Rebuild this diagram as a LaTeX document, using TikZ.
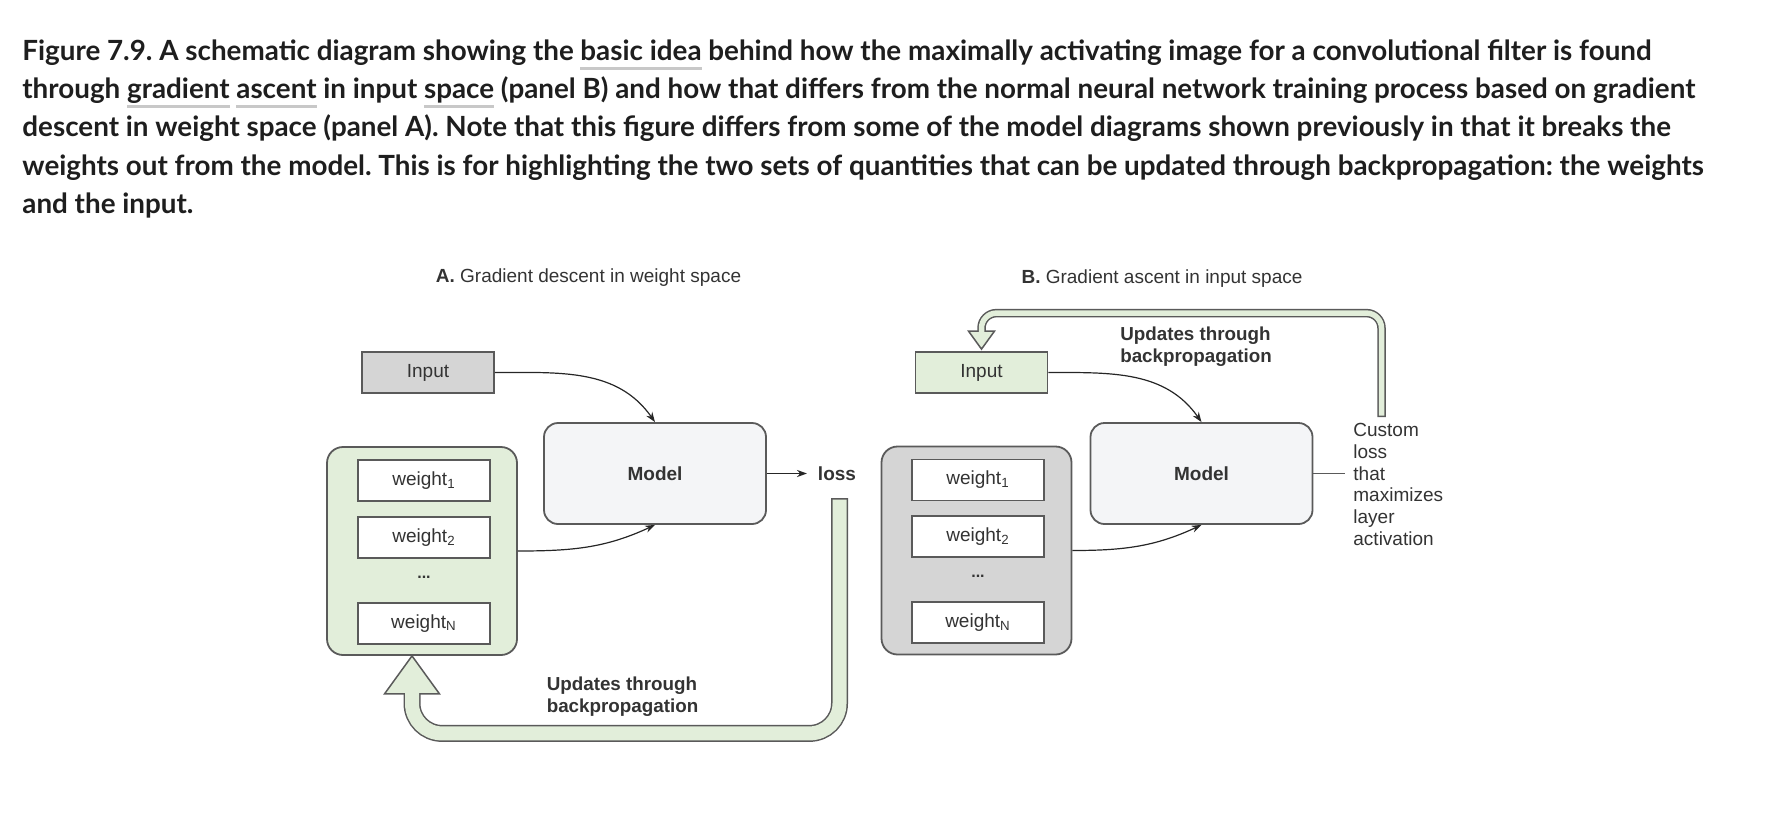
\documentclass[tikz,border=0pt]{standalone}
\usepackage{fontspec}
\setmainfont{Lato}
\newfontfamily\diagfont{Liberation Sans}
\usetikzlibrary{positioning,arrows.meta}
\frenchspacing

\definecolor{greenfill}{HTML}{E2EEDA}
\definecolor{grayfill}{HTML}{D5D5D5}
\definecolor{modelfill}{HTML}{F4F5F7}
\definecolor{edgegray}{HTML}{5A5A5A}
\definecolor{diagtext}{HTML}{333333}
\definecolor{captext}{HTML}{1E1E1E}
\definecolor{linkgray}{HTML}{C8C8C8}

% grey link underline under a word
\newcommand\ulink[1]{\setbox0=\hbox{#1}\rlap{\color{linkgray}\rule[-5pt]{\wd0}{1.5pt}}\box0\relax}

\begin{document}
\begin{tikzpicture}[%
    x=0.5pt,y=-0.5pt,>={Stealth[length=5pt,width=3.6pt]},
    font=\diagfont\fontsize{9.5}{10.85}\selectfont,text=diagtext,
    caption/.style={anchor=north west,align=left,inner sep=0pt,
      font=\fontsize{13.9}{19.15}\selectfont\bfseries,text=captext},
    inbox/.style={draw=edgegray,line width=0.9pt,minimum width=66pt,
      minimum height=20.5pt,inner sep=0pt},
    wbox/.style={inbox,fill=white},
    modelbox/.style={draw=edgegray,line width=0.9pt,rounded corners=7pt,
      fill=modelfill,minimum width=111pt,minimum height=50.5pt,
      font=\diagfont\bfseries\fontsize{9.5}{11}\selectfont},
    wgroup/.style={draw=edgegray,line width=0.9pt,rounded corners=8pt,
      minimum width=95pt,minimum height=104pt},
    boldlbl/.style={align=left,font=\diagfont\bfseries\fontsize{9.4}{11}\selectfont},
    dots/.style={font=\diagfont\bfseries\fontsize{8}{8}\selectfont,yshift=1.5pt},
    flow/.style={->,line width=0.6pt,draw=black!85},
    fatrim/.style={draw=edgegray,line width=#1},
    fatfill/.style={draw=greenfill,line width=#1},
    fathead/.style={draw=edgegray,fill=greenfill,line width=0.75pt}
  ]
  \useasboundingbox (0,0) rectangle (1766,830);

  % caption
  \node[caption] (cap) at (22,39) {Figure 7.9. A schematic diagram showing the \ulink{basic idea} behind how the maximally activating image for a convolutional filter is found\\
    through \ulink{gradient} \ulink{ascent} in input \ulink{space} (panel B) and how that differs from the normal neural network training process based on gradient\\
    descent in weight space (panel A). Note that this figure differs from some of the model diagrams shown previously in that it breaks the\\
    weights out from the model. This is for highlighting the two sets of quantities that can be updated through backpropagation: the weights\\
    and the input.};

  % panel A
  \node (titlea) at (588.5,278) {\textbf{A.} Gradient descent in weight space};
  \node[inbox,fill=grayfill] (ina) at (428,372.5) {Input};
  \node[modelbox] (modela) at (655,473.5) {Model};
  \node[wgroup,fill=greenfill] (wgroupa) at (422,551) {};
  \node[wbox] (w1a) at (424,480.5) {weight\textsubscript{1}};
  \node[wbox] (w2a) [below=7pt of w1a] {weight\textsubscript{2}};
  \node[wbox] (wna) [below=21.5pt of w2a] {weight\textsubscript{N}};
  \path (w2a) -- (wna) node[midway,dots] (dotsa) {...};
  \node[font=\diagfont\bfseries\fontsize{9.5}{11}\selectfont] (lossa) [right=22pt of modela] {loss};
  \node[boldlbl] (upda) at (622.5,696.5) {Updates through\\backpropagation};

  \draw[flow] (ina.east) to[out=0,in=125] (modela.north);
  \draw[flow] (wgroupa.east) to[out=0,in=205] (modela.south);
  \draw[flow,shorten >=2pt] (modela.east) -- (lossa.west);

  \coordinate (fa0) at (839.5,498);
  \coordinate (tipa) at ([xshift=-5pt]wgroupa.south);
  \draw[fatrim=8.5pt,rounded corners=15pt] (fa0) |- ([yshift=-38.75pt]tipa) -- ([yshift=-19pt]tipa);
  \draw[fathead] (tipa) -- ++(-13.75pt,-19pt) -- ++(27.5pt,0) -- cycle;
  \draw[fatfill=7pt,rounded corners=15pt,shorten <=0.75pt,shorten >=-0.6pt] (fa0) |- ([yshift=-38.75pt]tipa) -- ([yshift=-19pt]tipa);

  % panel B
  \node (titleb) at (1162,279) {\textbf{B.} Gradient ascent in input space};
  \node[inbox,fill=greenfill] (inb) at (981.5,372.5) {Input};
  \node[modelbox] (modelb) at (1201.5,473.5) {Model};
  \node[wgroup,fill=grayfill] (wgroupb) at (976.5,550.5) {};
  \node[wbox] (w1b) at (978,480) {weight\textsubscript{1}};
  \node[wbox] (w2b) [below=7pt of w1b] {weight\textsubscript{2}};
  \node[wbox] (wnb) [below=21.5pt of w2b] {weight\textsubscript{N}};
  \path (w2b) -- (wnb) node[midway,dots] (dotsb) {...};
  \node[anchor=west,align=left,inner xsep=4pt,inner ysep=0pt] (lossb) at (1345,484.5)
    {Custom\\loss\\that\\maximizes\\layer\\activation};
  \node[boldlbl] (updb) at (1196,346.5) {Updates through\\backpropagation};

  \draw[flow] (inb.east) to[out=0,in=125] (modelb.north);
  \draw[flow] (wgroupb.east) to[out=0,in=205] (modelb.south);
  \draw[draw=edgegray,line width=0.9pt] (modelb.east) -- (modelb.east -| lossb.west);

  \coordinate (fb0) at (1381.5,417);
  \coordinate (tipb) at ([yshift=1pt]inb.north);
  \draw[fatrim=4.25pt,rounded corners=7.5pt] (fb0) |- ([yshift=18pt]tipb) -- ([yshift=9pt]tipb);
  \draw[fathead] (tipb) -- ++(-6.5pt,9pt) -- ++(13pt,0) -- cycle;
  \draw[fatfill=2.75pt,rounded corners=7.5pt,shorten <=0.75pt,shorten >=-0.5pt] (fb0) |- ([yshift=18pt]tipb) -- ([yshift=9pt]tipb);
\end{tikzpicture}
\end{document}
